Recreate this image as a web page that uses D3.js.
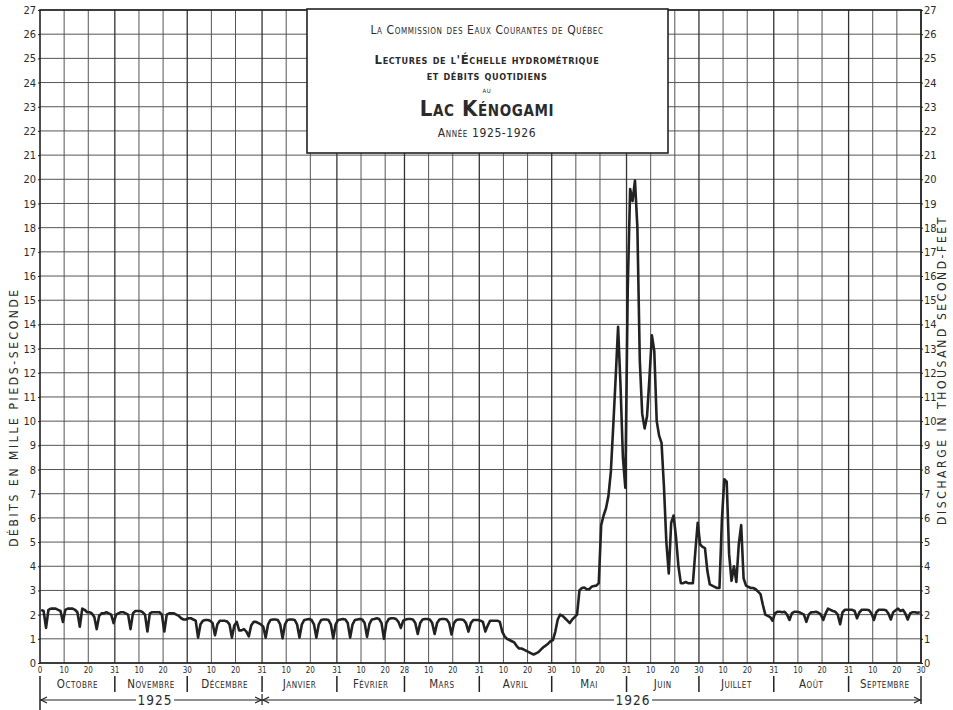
<!DOCTYPE html>
<html>
<head>
<meta charset="utf-8">
<script src="https://cdn.jsdelivr.net/npm/d3@7"></script>
<style>
  body { margin: 0; background: #fff; }
  svg text { font-family: "DejaVu Sans Condensed", "DejaVu Sans", sans-serif; fill: #2b2b2b; }
</style>
</head>
<body>
<svg id="chart" width="953" height="710"></svg>
<script>
// months of the water year 1925-1926
const months = ["Octobre", "Novembre", "Décembre", "Janvier", "Février", "Mars", "Avril", "Mai", "Juin", "Juillet", "Août", "Septembre"]
const monthDays = [31, 30, 31, 31, 28, 31, 30, 31, 30, 31, 31, 30]
const dayTicks = [10, 20]
const yTicks = [0, 1, 2, 3, 4, 5, 6, 7, 8, 9, 10, 11, 12, 13, 14, 15, 16, 17, 18, 19, 20, 21, 22, 23, 24, 25, 26, 27]
const yearLabels = ["1925", "1926"]
const yearStartMonth = [0, 3]

// daily discharge, thousand second-feet
const flowOct = [2.2, 2.15, 1.45, 2.2, 2.25, 2.25, 2.25, 2.2, 2.15, 1.7, 2.2, 2.25, 2.25, 2.25, 2.2, 2.1, 1.5, 2.25, 2.2, 2.1, 2.1, 2.05, 1.9, 1.4, 1.95, 2.05, 2.05, 2.1, 2.05, 2.0, 1.65]
const flowNov = [2.0, 2.05, 2.1, 2.1, 2.05, 2.0, 1.4, 2.05, 2.15, 2.15, 2.15, 2.1, 2.0, 1.3, 2.05, 2.1, 2.1, 2.1, 2.1, 2.0, 1.3, 2.0, 2.05, 2.05, 2.05, 2.0, 1.95, 1.85, 1.8, 1.8]
const flowDec = [1.85, 1.85, 1.8, 1.75, 1.05, 1.6, 1.75, 1.78, 1.78, 1.75, 1.65, 1.15, 1.6, 1.75, 1.75, 1.75, 1.72, 1.6, 1.05, 1.55, 1.7, 1.35, 1.35, 1.4, 1.3, 1.1, 1.55, 1.7, 1.7, 1.65, 1.6]
const flowJan = [1.5, 1.05, 1.6, 1.78, 1.8, 1.8, 1.78, 1.6, 1.02, 1.6, 1.78, 1.8, 1.8, 1.78, 1.6, 1.05, 1.6, 1.78, 1.8, 1.82, 1.78, 1.6, 1.05, 1.6, 1.78, 1.8, 1.8, 1.78, 1.6, 1.02, 1.6]
const flowFeb = [1.78, 1.8, 1.82, 1.8, 1.65, 1.05, 1.6, 1.78, 1.8, 1.82, 1.8, 1.65, 1.08, 1.62, 1.8, 1.82, 1.85, 1.82, 1.65, 1.0, 1.65, 1.82, 1.85, 1.85, 1.82, 1.7, 1.45, 1.75]
const flowMar = [1.8, 1.82, 1.82, 1.8, 1.65, 1.2, 1.65, 1.8, 1.82, 1.82, 1.8, 1.65, 1.2, 1.65, 1.8, 1.82, 1.82, 1.8, 1.65, 1.18, 1.65, 1.78, 1.8, 1.8, 1.78, 1.65, 1.3, 1.65, 1.78, 1.78, 1.78]
const flowApr = [1.75, 1.7, 1.3, 1.55, 1.75, 1.75, 1.75, 1.75, 1.7, 1.3, 1.1, 1.0, 0.95, 0.9, 0.85, 0.7, 0.6, 0.6, 0.55, 0.5, 0.45, 0.4, 0.35, 0.4, 0.45, 0.55, 0.65, 0.72, 0.8, 0.9]
const flowMay = [0.95, 1.3, 1.8, 2.0, 1.95, 1.85, 1.75, 1.65, 1.8, 1.9, 2.0, 3.0, 3.1, 3.12, 3.05, 3.05, 3.15, 3.18, 3.2, 3.3, 5.7, 6.1, 6.4, 6.9, 7.9, 9.8, 11.8, 13.9, 11.5, 8.5, 7.25]
const flowJun = [15.5, 19.6, 19.1, 19.95, 18.0, 12.5, 10.3, 9.7, 10.2, 11.8, 13.55, 12.9, 10.0, 9.4, 9.1, 7.3, 5.0, 3.7, 5.8, 6.1, 5.2, 4.0, 3.3, 3.3, 3.35, 3.3, 3.3, 3.3, 4.6, 5.8]
const flowJul = [4.9, 4.8, 4.75, 3.8, 3.25, 3.2, 3.15, 3.1, 3.1, 5.9, 7.6, 7.5, 4.5, 3.4, 4.0, 3.35, 4.9, 5.7, 3.5, 3.2, 3.15, 3.1, 3.1, 3.05, 2.95, 2.85, 2.4, 2.0, 1.95, 1.9, 1.75]
const flowAug = [2.05, 2.12, 2.12, 2.1, 2.12, 2.0, 1.78, 2.05, 2.12, 2.12, 2.1, 2.05, 2.0, 1.7, 2.0, 2.1, 2.1, 2.12, 2.08, 2.0, 1.78, 2.05, 2.25, 2.2, 2.15, 2.12, 2.0, 1.6, 2.1, 2.2, 2.2]
const flowSep = [2.2, 2.2, 2.15, 1.85, 2.1, 2.2, 2.2, 2.2, 2.18, 2.05, 1.78, 2.1, 2.2, 2.2, 2.2, 2.18, 2.05, 1.8, 2.1, 2.18, 2.25, 2.15, 2.2, 2.05, 1.8, 2.05, 2.1, 2.1, 2.08, 2.1]
const flows = [flowOct, flowNov, flowDec, flowJan, flowFeb, flowMar, flowApr, flowMay, flowJun, flowJul, flowAug, flowSep]

// day offsets of each month start
const monthStart = []
let acc = 0
monthDays.forEach(n => { monthStart.push(acc); acc += n })
const totalDays = acc

const data = []
flows.forEach((arr, m) => {
    arr.forEach((v, d) => data.push({ t: monthStart[m] + d + 0.5, v: v }))
})

const plotL = 40, plotR = 921, plotT = 10, plotB = 663
const svg = d3.select("#chart")
const x = d3.scaleLinear().domain([0, totalDays]).range([plotL, plotR])
const y = d3.scaleLinear().domain([0, 27]).range([plotB, plotT])

// horizontal grid
svg.append("g").selectAll("line").data(yTicks).join("line")
    .attr("x1", plotL).attr("x2", plotR)
    .attr("y1", d => y(d)).attr("y2", d => y(d))
    .attr("stroke", "#555").attr("stroke-width", 1)

// vertical grid: 10th, 20th of each month and month ends
const vTicks = []
monthDays.forEach((n, m) => {
    dayTicks.forEach(d => vTicks.push({ t: monthStart[m] + d, label: d, end: false }))
    vTicks.push({ t: monthStart[m] + n, label: n, end: true })
})
svg.append("g").selectAll("line").data(vTicks).join("line")
    .attr("x1", d => x(d.t)).attr("x2", d => x(d.t))
    .attr("y1", plotT).attr("y2", plotB)
    .attr("stroke", d => d.end ? "#333" : "#555")
    .attr("stroke-width", d => d.end ? 1.3 : 1)

// plot frame
svg.append("rect").attr("x", plotL).attr("y", plotT)
    .attr("width", plotR - plotL).attr("height", plotB - plotT)
    .attr("fill", "none").attr("stroke", "#222").attr("stroke-width", 1.6)

// y axes (labels only)
const axisL = svg.append("g").attr("transform", `translate(${plotL},0)`)
    .call(d3.axisLeft(y).tickValues(yTicks).tickSize(2).tickPadding(2))
const axisR = svg.append("g").attr("transform", `translate(${plotR},0)`)
    .call(d3.axisRight(y).tickValues(yTicks).tickSize(2).tickPadding(1))
;[axisL, axisR].forEach(a => {
    a.select(".domain").remove()
    a.selectAll("line").attr("stroke", "#222")
    a.selectAll("text").style("font-size", "11px").attr("fill", "#2b2b2b")
})

// day labels under the axis
const dayLabels = [{ t: 0, label: 0 }].concat(vTicks)
svg.append("g").selectAll("text").data(dayLabels).join("text")
    .attr("x", d => x(d.t)).attr("y", 673)
    .attr("text-anchor", "middle")
    .style("font-size", "8px")
    .text(d => d.label)

// month names and separators
svg.append("g").selectAll("text").data(months).join("text")
    .attr("x", (d, i) => x(monthStart[i] + monthDays[i] / 2))
    .attr("y", 688)
    .attr("text-anchor", "middle")
    .style("font-size", "11.5px").style("font-variant", "small-caps").style("letter-spacing", "0.5px")
    .text(d => d)
svg.append("g").selectAll("line").data(d3.range(months.length + 1)).join("line")
    .attr("x1", i => x(i < months.length ? monthStart[i] : totalDays))
    .attr("x2", i => x(i < months.length ? monthStart[i] : totalDays))
    .attr("y1", 676)
    .attr("y2", i => (i === 0) ? 710 : (i === months.length ? 704 : 692))
    .attr("stroke", "#222").attr("stroke-width", 1.5)

// year arrows
const yearGroup = svg.append("g")
yearLabels.forEach((lab, k) => {
    const x0 = x(monthStart[yearStartMonth[k]])
    const x1 = k + 1 < yearLabels.length ? x(monthStart[yearStartMonth[k + 1]]) : x(totalDays)
    const mid = k === 0 ? (x0 + x1) / 2 + 4 : 633
    const yy = 700
    const hw = 19
    yearGroup.append("line").attr("x1", x0).attr("x2", mid - hw).attr("y1", yy).attr("y2", yy)
        .attr("stroke", "#222").attr("stroke-width", 1.2)
    yearGroup.append("line").attr("x1", mid + hw).attr("x2", x1).attr("y1", yy).attr("y2", yy)
        .attr("stroke", "#222").attr("stroke-width", 1.2)
    yearGroup.append("path").attr("d", `M${x0 + 7},${yy - 3}L${x0 + 1},${yy}L${x0 + 7},${yy + 3}`)
        .attr("fill", "none").attr("stroke", "#222").attr("stroke-width", 1.2)
    yearGroup.append("path").attr("d", `M${x1 - 7},${yy - 3}L${x1 - 1},${yy}L${x1 - 7},${yy + 3}`)
        .attr("fill", "none").attr("stroke", "#222").attr("stroke-width", 1.2)
    yearGroup.append("text").attr("x", mid).attr("y", yy + 5).attr("text-anchor", "middle")
        .style("font-size", "13.5px").style("letter-spacing", "1px").text(lab)
})
yearGroup.append("line").attr("x1", x(monthStart[3])).attr("x2", x(monthStart[3]))
    .attr("y1", 694).attr("y2", 705).attr("stroke", "#222").attr("stroke-width", 1.2)

// discharge curve
const line = d3.line().x(d => x(d.t)).y(d => y(d.v))
svg.append("path").datum(data)
    .attr("d", line)
    .attr("fill", "none").attr("stroke", "#222").attr("stroke-width", 2.6)
    .attr("stroke-linejoin", "round")

// title box
const tb = svg.append("g")
tb.append("rect").attr("x", 307).attr("y", 9).attr("width", 361).attr("height", 144)
    .attr("fill", "#fff").attr("stroke", "#222").attr("stroke-width", 1.6)
const titleLines = [
    { text: "La Commission des Eaux Courantes de Québec", y: 34, size: 12, weight: "normal" },
    { text: "Lectures de l'Échelle hydrométrique", y: 64, size: 13, weight: "bold" },
    { text: "et débits quotidiens", y: 80, size: 13, weight: "bold" },
    { text: "au", y: 93, size: 8, weight: "normal" },
    { text: "Lac Kénogami", y: 116, size: 22, weight: "bold" },
    { text: "Année 1925-1926", y: 137, size: 12, weight: "normal" }
]
tb.selectAll("text").data(titleLines).join("text")
    .attr("x", 487).attr("y", d => d.y).attr("text-anchor", "middle")
    .style("font-size", d => d.size + "px").style("font-weight", d => d.weight)
    .style("font-variant", "small-caps").style("letter-spacing", "0.6px")
    .text(d => d.text)

// axis titles
svg.append("text").attr("transform", "translate(18,417) rotate(-90)")
    .attr("text-anchor", "middle").style("font-size", "12px").style("letter-spacing", "2.6px")
    .text("DÉBITS EN MILLE PIEDS-SECONDE")
svg.append("text").attr("transform", "translate(946,370) rotate(-90)")
    .attr("text-anchor", "middle").style("font-size", "12px").style("letter-spacing", "2.6px")
    .text("DISCHARGE IN THOUSAND SECOND-FEET")
</script>
</body>
</html>
